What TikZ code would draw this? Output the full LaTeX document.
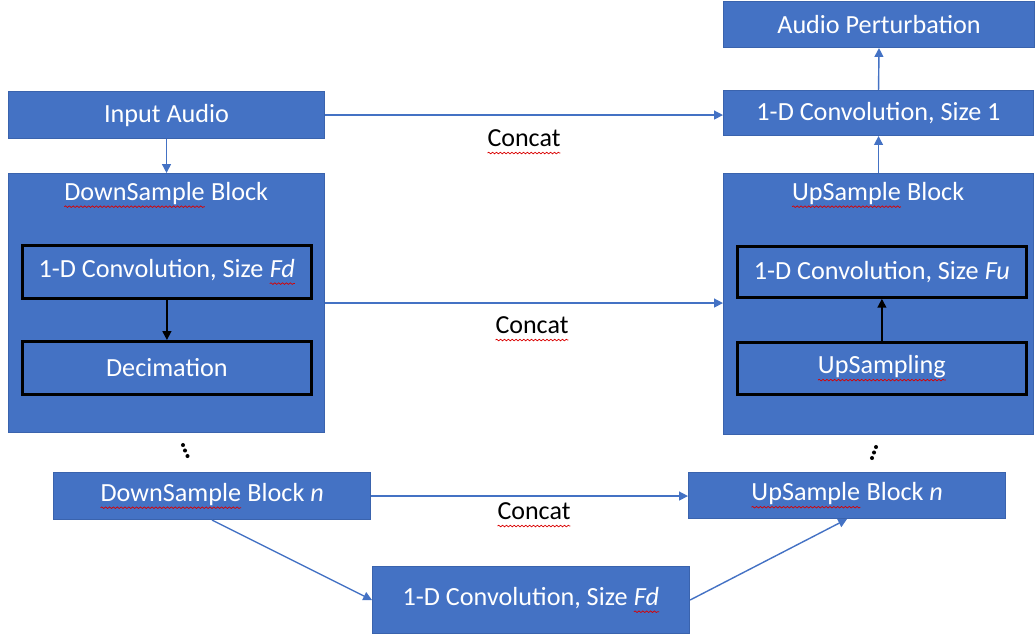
\documentclass[tikz,border=0pt]{standalone}
\usepackage{fontspec}
\setmainfont{Carlito}
\usetikzlibrary{arrows.meta,decorations.pathmorphing}
\definecolor{obl}{HTML}{4472C4}
\definecolor{obd}{HTML}{3A63AD}
\newcommand\sq[1]{\tikz[baseline=(sqt.base)]{\node[inner sep=0pt,outer sep=0pt,draw=none,fill=none,minimum size=0pt](sqt){#1};\draw[red!85!black,line width=0.4pt,decorate,decoration={snake,amplitude=0.45pt,segment length=2.2pt}]([yshift=-3.6pt]sqt.base west)--([yshift=-3.6pt]sqt.base east);}}
\tikzset{
  box/.style={draw=obd,fill=obl,line width=0.6pt,text=white,inner sep=0pt,anchor=north west,font=\fontsize{14.9}{17}\selectfont},
  inbox/.style={box,draw=black,line width=1.6pt},
  lbl/.style={text=white,font=\fontsize{14.9}{17}\selectfont,inner sep=0pt},
  cat/.style={text=black,font=\fontsize{14.8}{17}\selectfont,inner sep=0pt},
  arr/.style={draw=obl,line width=0.8pt,-{Triangle[length=5pt,width=5pt]}},
  karr/.style={draw=black,line width=0.9pt,-{Triangle[length=5pt,width=5pt]}},
  dot/.style={fill=black,draw=none,circle,inner sep=0pt,minimum size=2.3pt}
}
\begin{document}
\begin{tikzpicture}[x=0.02cm,y=-0.02cm]
\useasboundingbox (0,0) rectangle (1035,637);
% left column
\node[box,minimum width={316*0.02cm},minimum height={47*0.02cm}] (in) at (8,91) {Input Audio};
\node[box,minimum width={316*0.02cm},minimum height={259*0.02cm}] (ds) at (8,173) {};
\node[lbl] (dsT) at (166,195) {\sq{DownSample} Block};
\node[inbox,minimum width={289*0.02cm},minimum height={53*0.02cm}] (dconv) at (21,244) {1-D Convolution, Size \sq{\textit{Fd}}};
\node[inbox,minimum width={289*0.02cm},minimum height={53*0.02cm}] (dec) at (21,340) {Decimation};
\node[box,minimum width={317*0.02cm},minimum height={47*0.02cm}] (dsn) at (53,472) {\sq{DownSample} Block \textit{n}};
% right column
\node[box,minimum width={311*0.02cm},minimum height={46*0.02cm}] (ap) at (723,1) {Audio Perturbation};
\node[box,minimum width={310*0.02cm},minimum height={45*0.02cm}] (c1) at (723,90) {1-D Convolution, Size 1};
\node[box,minimum width={310*0.02cm},minimum height={261*0.02cm}] (us) at (723,173) {};
\node[lbl] (usT) at (878,195) {\sq{UpSample} Block};
\node[inbox,minimum width={289*0.02cm},minimum height={51*0.02cm}] (uconv) at (736,245) {1-D Convolution, Size \textit{Fu}};
\node[inbox,minimum width={289*0.02cm},minimum height={52*0.02cm}] (ups) at (736,341) {\sq{UpSampling}};
\node[box,minimum width={317*0.02cm},minimum height={46*0.02cm}] (usn) at (688,472) {\sq{UpSample} Block \textit{n}};
% bottom
\node[box,minimum width={317*0.02cm},minimum height={67*0.02cm}] (bc) at (372,566) {1-D Convolution, Size \sq{\textit{Fd}}};
% labels
\node[cat] (cat1) at (524,142) {\sq{Concat}};
\node[cat] (cat2) at (532,329) {\sq{Concat}};
\node[cat] (cat3) at (534,515) {\sq{Concat}};
% dots
\node[dot] (dl1) at (183,445) {};
\node[dot] (dl2) at (185,450.5) {};
\node[dot] (dl3) at (187.5,456) {};
\node[dot] (dr1) at (876,447) {};
\node[dot] (dr2) at (874,452.5) {};
\node[dot] (dr3) at (872,458) {};
% connectors
\draw[arr] (in.south) -- (ds.north);
\draw[arr] (in.east) -- (in.east -| c1.west);
\draw[arr] (ds.east) -- (ds.east -| us.west);
\draw[arr] (dsn.east) -- (dsn.east -| usn.west);
\draw[arr] (dsn.south) -- (bc.west);
\draw[arr] (bc.east) -- (usn.south);
\draw[arr] (us.north) -- (c1.south);
\draw[arr] (c1.north) -- (ap.south);
\draw[karr] (dconv.south) -- (dec.north);
\draw[karr] (ups.north) -- (uconv.south);
\end{tikzpicture}
\end{document}
